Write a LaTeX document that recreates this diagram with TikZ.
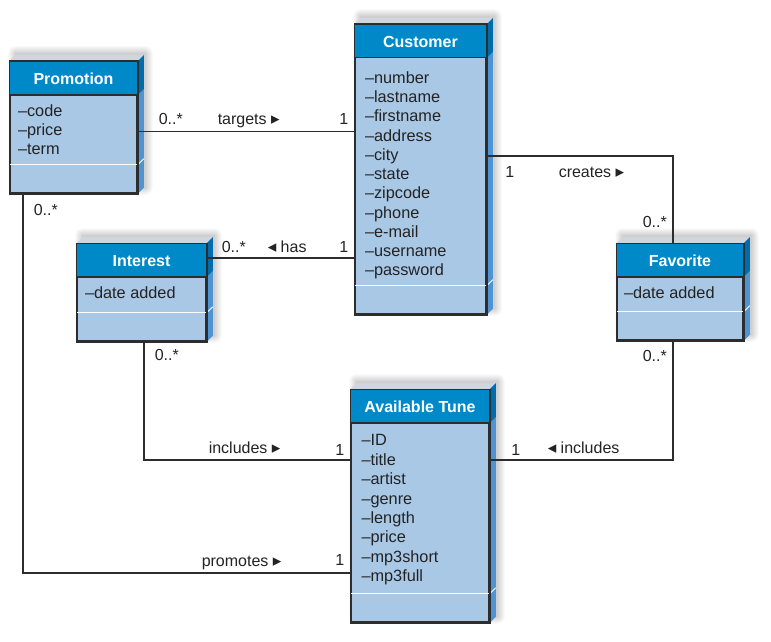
\documentclass[tikz,border=0pt]{standalone}
\usepackage{fontspec}
\setmainfont{Liberation Sans}
\newfontfamily\dejavu{DejaVu Sans}
\usetikzlibrary{backgrounds}
\definecolor{headblue}{RGB}{0,137,201}
\definecolor{bodyblue}{RGB}{169,200,230}
\definecolor{sideblue}{RGB}{78,148,212}
\definecolor{sidedark}{RGB}{0,108,172}
\definecolor{topgray}{RGB}{208,214,221}
\definecolor{linegray}{RGB}{45,45,45}
\definecolor{ink}{RGB}{35,35,35}
\newcommand{\rtri}{{\dejavu\fontsize{17pt}{17pt}\selectfont ▸}}
\newcommand{\ltri}{{\dejavu\fontsize{17pt}{17pt}\selectfont ◂}}

\begin{document}
\begin{tikzpicture}[x=1pt, y=-1pt, line width=1.5pt,
  cls/.style = {draw=linegray, fill=bodyblue, inner sep=0pt},
  clsname/.style = {anchor=base, text=white, font=\fontsize{16pt}{19pt}\selectfont\bfseries},
  attr/.style = {anchor=base west, inner sep=0pt, text=ink, font=\fontsize{16.3pt}{19pt}\selectfont},
  lbl/.style = {anchor=base west, inner sep=0pt, text=ink, font=\fontsize{16pt}{19pt}\selectfont},
  assoc/.style = {draw=linegray, line width=1.5pt}]
  \useasboundingbox (0,0) rectangle (771,642);

  % classes
  \node[cls, minimum width=127pt, minimum height=131pt] (prom) at (73.5,127.5) {};
  \node[cls, minimum width=131pt, minimum height=289pt] (cust) at (420.5,169.5) {};
  \node[cls, minimum width=129pt, minimum height=97pt] (int) at (141.5,292.5) {};
  \node[cls, minimum width=126pt, minimum height=96pt] (fav) at (680,292) {};
  \node[cls, minimum width=138pt, minimum height=232pt] (tune) at (420,506) {};

  % shadows and sides
  \begin{scope}[on background layer]
    \fill[white] (0,0) rectangle (771,642);
    \foreach \b in {prom,cust,int,fav,tune} {
      \foreach \s in {0,...,7}
        \fill[black, opacity=0.022, rounded corners={\s pt}]
          ([xshift={(6-\s)*1pt}, yshift={(6-\s)*1pt}]\b.south west) rectangle
          ([xshift={(8+\s)*1pt}, yshift={(8+\s)*1pt}]\b.north east);
      \fill[topgray] (\b.north west) -- ++(6pt,6pt) -- ([shift={(6pt,6pt)}]\b.north east) -- (\b.north east) -- cycle;
      \fill[sideblue] (\b.north east) -- ++(6pt,6pt) -- ([shift={(6pt,6pt)}]\b.south east) -- (\b.south east) -- cycle;
      \fill[sidedark] (\b.north east) -- ++(6pt,6pt) -- ++(0pt,-33.5pt) -- ++(-6pt,-6pt) -- cycle;
      \draw[white, line width=0.8pt] ([yshift=29pt]\b.south east) -- ++(6pt,6pt);
    }
  \end{scope}

  % headers
  \foreach \b/\t in {prom/Promotion, cust/Customer, int/Interest, fav/Favorite, tune/Available Tune} {
    \fill[headblue] (\b.north west) rectangle ([yshift=-33.5pt]\b.north east);
    \draw[linegray] ([yshift=-33.5pt]\b.north west) -- ([yshift=-33.5pt]\b.north east);
    \draw[white, line width=1pt] ([yshift=29pt]\b.south west) -- ([yshift=29pt]\b.south east);
    \draw[linegray] (\b.south west) rectangle (\b.north east);
    \node[clsname] (\b-t) at ([yshift=-23.5pt]\b.north) {\t};
  }

  % attributes
  \foreach \a [count=\i from 0] in {code,price,term}
    \node[attr] (prom-a\i) at ([xshift=8pt, yshift={-55pt-\i*19.1pt}]prom.north west) {–\a};
  \foreach \a [count=\i from 0] in {number,lastname,firstname,address,city,state,zipcode,phone,e-mail,username,password}
    \node[attr] (cust-a\i) at ([xshift=10pt, yshift={-59pt-\i*19.27pt}]cust.north west) {–\a};
  \node[attr] (int-a0) at ([xshift=8pt, yshift=-55pt]int.north west) {–date added};
  \node[attr] (fav-a0) at ([xshift=7pt, yshift=-55pt]fav.north west) {–date added};
  \foreach \a [count=\i from 0] in {ID,title,artist,genre,length,price,mp3short,mp3full}
    \node[attr] (tune-a\i) at ([xshift=10.5pt, yshift={-56.7pt-\i*19.4pt}]tune.north west) {–\a};

  % associations
  \coordinate (tgA) at ([yshift=-4pt]prom.east);
  \draw[assoc] (tgA) -- (tgA -| cust.west);
  \coordinate (crA) at ([yshift=13.5pt]cust.east);
  \draw[assoc] (crA) -| ([xshift=-7pt]fav.north);
  \coordinate (hsA) at ([yshift=34.5pt]int.east);
  \draw[assoc] (hsA) -- (hsA -| cust.west);
  \draw[assoc] ([xshift=2.5pt]int.south) |- ([yshift=46pt]tune.west);
  \draw[assoc] ([xshift=-7pt]fav.south) |- ([yshift=46pt]tune.east);
  \draw[assoc] ([xshift=-50.5pt]prom.south) |- ([yshift=-67pt]tune.west);

  % association labels
  \node[lbl] (tgM) at (158,124) {0..*};
  \node[lbl] (tgN) at (217,124) {targets \rtri};
  \node[lbl] (tgO) at (338.5,124) {1};
  \node[lbl] (crO) at (504.5,177) {1};
  \node[lbl] (crN) at (558,177) {creates \rtri};
  \node[lbl] (crM) at (642,227) {0..*};
  \node[lbl] (hsM) at (221,252) {0..*};
  \node[lbl] (hsN) at (267,252) {\ltri\ has};
  \node[lbl] (hsO) at (338.5,252) {1};
  \node[lbl] (inM) at (154,360.5) {0..*};
  \node[lbl] (inN) at (208,453) {includes \rtri};
  \node[lbl] (inO) at (334.5,455.5) {1};
  \node[lbl] (fiM) at (642,361) {0..*};
  \node[lbl] (fiO) at (510.5,455) {1};
  \node[lbl] (fiN) at (547,453) {\ltri\ includes};
  \node[lbl] (pmM) at (33,215) {0..*};
  \node[lbl] (pmN) at (201,566.5) {promotes \rtri};
  \node[lbl] (pmO) at (334.5,565) {1};
\end{tikzpicture}
\end{document}
